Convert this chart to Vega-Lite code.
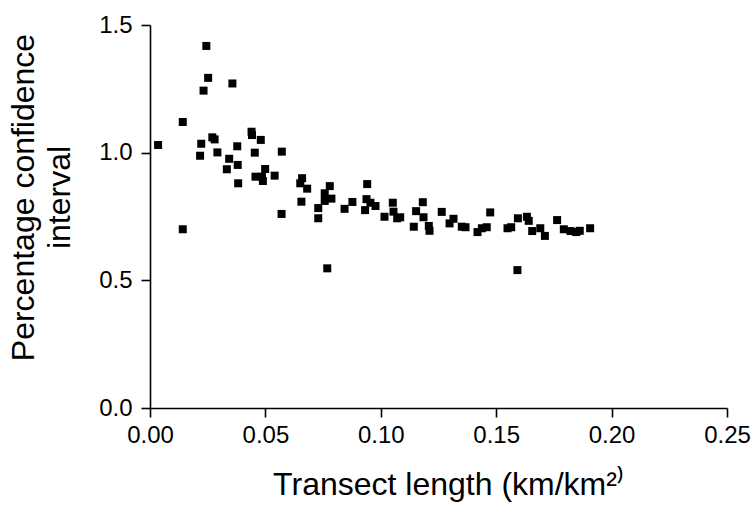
{
  "$schema": "https://vega.github.io/schema/vega-lite/v6.json",
  "width": 577,
  "height": 383,
  "autosize": {"type": "none"},
  "padding": {"left": 150, "top": 25, "right": 29, "bottom": 104},
  "background": "white",
  "config": {
    "view": {"stroke": null},
    "font": "Liberation Sans",
    "axis": {"grid": false, "labelFlush": false, "labelOverlap": false, "domainColor": "black", "tickColor": "black", "domainWidth": 1.6, "tickWidth": 1.6, "labelColor": "black", "titleColor": "black", "labelFont": "Liberation Sans", "titleFont": "Liberation Sans", "labelFontSize": 24, "titleFontSize": 32, "titleFontWeight": "normal", "tickSize": 9}
  },
  "data": {
    "values": [
      {"x": 0.0035, "y": 1.030},
      {"x": 0.0142, "y": 1.120},
      {"x": 0.0142, "y": 0.700},
      {"x": 0.0222, "y": 1.035},
      {"x": 0.0217, "y": 0.988},
      {"x": 0.0232, "y": 1.243},
      {"x": 0.0244, "y": 1.418},
      {"x": 0.0252, "y": 1.293},
      {"x": 0.0270, "y": 1.060},
      {"x": 0.0280, "y": 1.052},
      {"x": 0.0292, "y": 1.001},
      {"x": 0.0333, "y": 0.935},
      {"x": 0.0343, "y": 0.976},
      {"x": 0.0357, "y": 1.271},
      {"x": 0.0378, "y": 1.025},
      {"x": 0.0380, "y": 0.952},
      {"x": 0.0382, "y": 0.880},
      {"x": 0.0440, "y": 1.082},
      {"x": 0.0442, "y": 1.069},
      {"x": 0.0454, "y": 1.000},
      {"x": 0.0457, "y": 0.906},
      {"x": 0.0480, "y": 1.050},
      {"x": 0.0485, "y": 0.906},
      {"x": 0.0489, "y": 0.889},
      {"x": 0.0499, "y": 0.936},
      {"x": 0.0540, "y": 0.910},
      {"x": 0.0571, "y": 1.004},
      {"x": 0.0570, "y": 0.760},
      {"x": 0.0659, "y": 0.900},
      {"x": 0.0651, "y": 0.880},
      {"x": 0.0681, "y": 0.859},
      {"x": 0.0656, "y": 0.808},
      {"x": 0.0729, "y": 0.783},
      {"x": 0.0729, "y": 0.743},
      {"x": 0.0757, "y": 0.841},
      {"x": 0.0757, "y": 0.811},
      {"x": 0.0768, "y": 0.547},
      {"x": 0.0779, "y": 0.869},
      {"x": 0.0786, "y": 0.820},
      {"x": 0.0843, "y": 0.780},
      {"x": 0.0877, "y": 0.807},
      {"x": 0.0932, "y": 0.775},
      {"x": 0.0938, "y": 0.818},
      {"x": 0.0941, "y": 0.877},
      {"x": 0.0955, "y": 0.804},
      {"x": 0.0977, "y": 0.791},
      {"x": 0.1016, "y": 0.749},
      {"x": 0.1052, "y": 0.804},
      {"x": 0.1055, "y": 0.769},
      {"x": 0.1071, "y": 0.743},
      {"x": 0.1084, "y": 0.747},
      {"x": 0.1143, "y": 0.710},
      {"x": 0.1153, "y": 0.771},
      {"x": 0.1182, "y": 0.806},
      {"x": 0.1185, "y": 0.747},
      {"x": 0.1208, "y": 0.713},
      {"x": 0.1211, "y": 0.694},
      {"x": 0.1264, "y": 0.768},
      {"x": 0.1298, "y": 0.723},
      {"x": 0.1315, "y": 0.741},
      {"x": 0.1351, "y": 0.710},
      {"x": 0.1367, "y": 0.708},
      {"x": 0.1419, "y": 0.689},
      {"x": 0.1438, "y": 0.704},
      {"x": 0.1459, "y": 0.708},
      {"x": 0.1474, "y": 0.766},
      {"x": 0.1549, "y": 0.704},
      {"x": 0.1565, "y": 0.708},
      {"x": 0.1592, "y": 0.540},
      {"x": 0.1594, "y": 0.743},
      {"x": 0.1633, "y": 0.749},
      {"x": 0.1641, "y": 0.733},
      {"x": 0.1656, "y": 0.693},
      {"x": 0.1691, "y": 0.704},
      {"x": 0.1711, "y": 0.674},
      {"x": 0.1764, "y": 0.736},
      {"x": 0.1793, "y": 0.700},
      {"x": 0.1822, "y": 0.693},
      {"x": 0.1847, "y": 0.689},
      {"x": 0.1862, "y": 0.694},
      {"x": 0.1907, "y": 0.704}
    ]
  },
  "mark": {"type": "point", "shape": "square", "filled": true, "color": "black", "opacity": 1, "size": 64},
  "encoding": {
    "x": {
      "field": "x", "type": "quantitative",
      "scale": {"domain": [0, 0.25], "nice": false, "zero": false},
      "axis": {"values": [0, 0.05, 0.1, 0.15, 0.2, 0.25], "format": ".2f", "title": "Transect length (km/km²⁾", "labelPadding": 6, "titlePadding": 22, "titleX": 298}
    },
    "y": {
      "field": "y", "type": "quantitative",
      "scale": {"domain": [0, 1.5], "nice": false, "zero": false},
      "axis": {"values": [0, 0.5, 1, 1.5], "format": ".1f", "title": ["Percentage confidence", "interval"], "labelPadding": 9, "titlePadding": 22, "titleLineHeight": 36, "titleY": 172}
    }
  }
}
